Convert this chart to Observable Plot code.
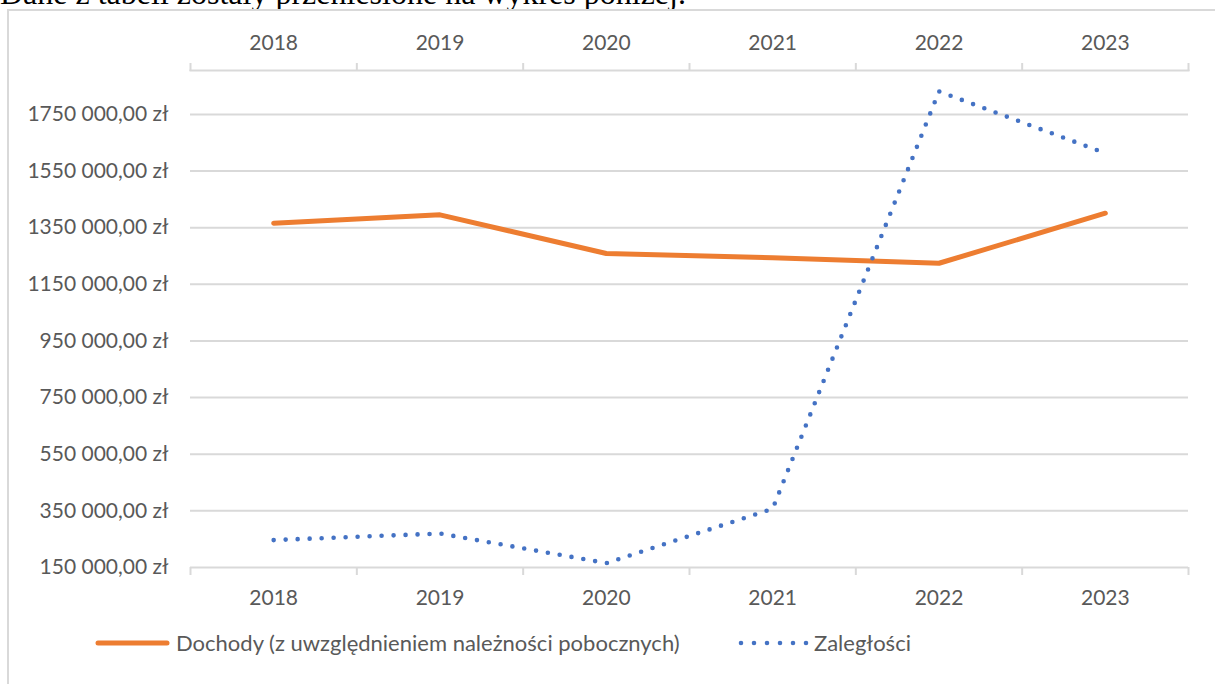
<!DOCTYPE html>
<html>
<head>
<meta charset="utf-8">
<script src="https://cdn.jsdelivr.net/npm/d3@7"></script>
<script src="https://cdn.jsdelivr.net/npm/@observablehq/plot@0.6"></script>
<style>
  html, body { margin: 0; padding: 0; background: #fff; }
  #page { position: relative; width: 1215px; height: 684px; overflow: hidden; font-family: Lato, sans-serif; color: #595959; }
  #intro { position: absolute; left: 0; top: 0; }
  #frame { position: absolute; left: 7px; top: 9px; right: -5px; bottom: -5px; border-left: 2px solid #d9d9d9; border-top: 2px solid #d9d9d9; }
  #chart { position: absolute; left: 0; top: 0; }
  .leg { position: absolute; top: 629px; display: flex; align-items: center; font-size: 22px; line-height: 28px; white-space: nowrap; }
  .leg svg { display: block; margin-right: 4px; }
</style>
</head>
<body>
<div id="page">
  <svg id="intro" width="1215" height="12"><text x="0" y="4" font-family="'Liberation Serif', serif" font-size="32" fill="#000">Dane z tabeli zostały przeniesione na wykres poniżej.</text></svg>
  <div id="frame"></div>
  <div id="chart"></div>
  <div class="leg" id="leg1"></div>
  <div class="leg" id="leg2"></div>
</div>
<script>
// ---- data ----
const years = [2018, 2019, 2020, 2021, 2022, 2023];
const dochody = [1365700, 1395400, 1258600, 1244000, 1224300, 1401000];
const zaleglosci = [246800, 270000, 165500, 357400, 1831100, 1613000];
const seriesNames = ["Dochody (z uwzględnieniem należności pobocznych)", "Zaległości"];
const seriesColors = ["#ED7D31", "#4472C4"];
const yTicks = [150000, 350000, 550000, 750000, 950000, 1150000, 1350000, 1550000, 1750000];
const yTickLabels = ["150 000,00 zł", "350 000,00 zł", "550 000,00 zł", "750 000,00 zł", "950 000,00 zł",
                     "1150 000,00 zł", "1350 000,00 zł", "1550 000,00 zł", "1750 000,00 zł"];
const yMin = 150000, yMax = 1905000;

// ---- derived tables ----
const rowsD = years.map((y, i) => ({year: y, value: dochody[i]}));
const rowsZ = years.map((y, i) => ({year: y, value: zaleglosci[i]}));
const boundaries = [...years.map(y => y - 0.5), years[years.length - 1] + 0.5];

const grid = "#d9d9d9";
const chart = Plot.plot({
  width: 1215,
  height: 620,
  marginLeft: 190,
  marginRight: 27,
  marginTop: 70,
  marginBottom: 53,
  style: {fontFamily: "Lato, sans-serif", fontSize: "21px", color: "#595959", background: "transparent", overflow: "visible"},
  x: {type: "linear", domain: [boundaries[0], boundaries[boundaries.length - 1]]},
  y: {type: "linear", domain: [yMin, yMax]},
  marks: [
    Plot.ruleY(yTicks, {stroke: grid, strokeWidth: 2}),
    Plot.frame({anchor: "top", stroke: grid, strokeWidth: 2}),
    Plot.axisX(boundaries, {anchor: "bottom", label: null, tickSize: 8, tickFormat: () => "", stroke: grid, strokeWidth: 2}),
    Plot.axisX(boundaries, {anchor: "top", label: null, tickSize: 8, tickFormat: () => "", stroke: grid, strokeWidth: 2}),
    Plot.axisX(years, {anchor: "bottom", label: null, tickSize: 0, tickPadding: 23, tickFormat: d => String(d), fill: "#595959"}),
    Plot.axisX(years, {anchor: "top", label: null, tickSize: 0, tickPadding: 21, tickFormat: d => String(d), fill: "#595959"}),
    Plot.axisY(yTicks, {anchor: "left", label: null, tickSize: 0, tickPadding: 22, tickFormat: d => yTickLabels[yTicks.indexOf(d)], fill: "#595959"}),
    Plot.lineY(rowsD, {x: "year", y: "value", stroke: seriesColors[0], strokeWidth: 5, strokeLinecap: "round", strokeLinejoin: "round"}),
    Plot.lineY(rowsZ, {x: "year", y: "value", stroke: seriesColors[1], strokeWidth: 4.6, strokeLinecap: "round", strokeLinejoin: "round", strokeDasharray: "0 12"})
  ]
});
document.getElementById("chart").appendChild(chart);

// ---- legend ----
const l1 = document.getElementById("leg1");
l1.style.left = "94px";
l1.innerHTML = `<svg width="78" height="10"><line x1="4" y1="5" x2="73" y2="5" stroke="${seriesColors[0]}" stroke-width="5" stroke-linecap="round"/></svg><span>${seriesNames[0]}</span>`;
const l2 = document.getElementById("leg2");
l2.style.left = "738px";
l2.innerHTML = `<svg width="72" height="10"><line x1="3" y1="5" x2="70" y2="5" stroke="${seriesColors[1]}" stroke-width="4.6" stroke-linecap="round" stroke-dasharray="0 13"/></svg><span>${seriesNames[1]}</span>`;
</script>
</body>
</html>
